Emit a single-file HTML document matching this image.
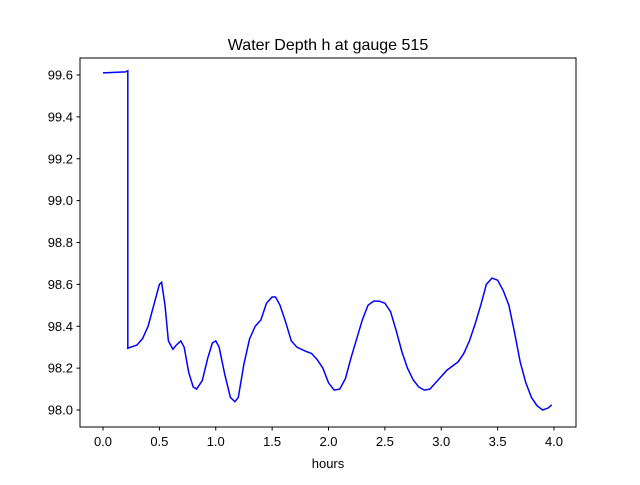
<!DOCTYPE html>
<html><head><meta charset="utf-8"><style>
html,body{margin:0;padding:0;background:#fff;}
svg text{font-family:"Liberation Sans","DejaVu Sans",sans-serif;}
</style></head><body>
<svg id="chart" width="640" height="480" xmlns="http://www.w3.org/2000/svg">
<rect width="640" height="480" fill="#fff"/>
<text x="328" y="50" text-anchor="middle" font-size="16">Water Depth h at gauge 515</text>
<g id="xticks"></g>
<g id="yticks"></g>
<path id="line" fill="none" stroke="#0000ff" stroke-width="1.5"/>
<rect x="80" y="58" width="496" height="369" fill="none" stroke="#000" stroke-width="1"/>
<text x="328" y="468" text-anchor="middle" font-size="13">hours</text>
</svg>
<script>
const hours=[0,0.2,0.22,0.2201,0.3,0.35,0.4,0.45,0.5,0.52,0.55,0.58,0.62,0.65,0.69,0.72,0.76,0.8,0.83,0.88,0.93,0.97,1.0,1.03,1.08,1.13,1.17,1.2,1.25,1.3,1.35,1.4,1.45,1.5,1.53,1.57,1.62,1.67,1.72,1.8,1.85,1.9,1.95,2.0,2.05,2.1,2.15,2.2,2.3,2.35,2.4,2.45,2.5,2.55,2.6,2.65,2.7,2.75,2.8,2.85,2.9,2.95,3.0,3.05,3.1,3.15,3.2,3.25,3.3,3.35,3.4,3.45,3.5,3.55,3.6,3.65,3.7,3.75,3.8,3.85,3.9,3.95,3.98];
const depth=[99.61,99.615,99.62,98.295,98.31,98.34,98.4,98.5,98.6,98.61,98.5,98.33,98.29,98.31,98.33,98.3,98.18,98.11,98.1,98.14,98.25,98.32,98.33,98.3,98.17,98.06,98.04,98.06,98.22,98.34,98.4,98.43,98.51,98.54,98.54,98.5,98.42,98.33,98.3,98.28,98.27,98.24,98.2,98.13,98.095,98.1,98.15,98.25,98.43,98.5,98.52,98.52,98.51,98.47,98.38,98.28,98.2,98.145,98.11,98.095,98.1,98.13,98.16,98.19,98.21,98.23,98.27,98.33,98.41,98.5,98.6,98.63,98.62,98.57,98.5,98.37,98.23,98.13,98.06,98.02,98.0,98.01,98.025];
const xTickLabels=["0.0","0.5","1.0","1.5","2.0","2.5","3.0","3.5","4.0"];
const yTickLabels=["98.0","98.2","98.4","98.6","98.8","99.0","99.2","99.4","99.6"];
const NS="http://www.w3.org/2000/svg";
function xs(v){return 103+(v-0)*(554-103)/4;}
function ys(v){return 410-(v-98.0)*(410-75)/1.6;}
let d="";
for(let i=0;i<hours.length;i++){d+=(i?"L":"M")+xs(hours[i]).toFixed(2)+","+ys(depth[i]).toFixed(2);}
document.getElementById("line").setAttribute("d",d);
const gx=document.getElementById("xticks");
xTickLabels.forEach(l=>{const x=xs(parseFloat(l));
const t=document.createElementNS(NS,"line");


t.setAttribute("x1",x);t.setAttribute("x2",x);t.setAttribute("y1",427);t.setAttribute("y2",430.5);t.setAttribute("stroke","#000");gx.appendChild(t);
const tx=document.createElementNS(NS,"text");


tx.setAttribute("x",x);tx.setAttribute("y",446);tx.setAttribute("text-anchor","middle");tx.setAttribute("font-size","13");tx.textContent=l;gx.appendChild(tx);});
const gy=document.getElementById("yticks");
yTickLabels.forEach(l=>{const y=ys(parseFloat(l));
const t=document.createElementNS(NS,"line");


t.setAttribute("x1",76.5);t.setAttribute("x2",80);t.setAttribute("y1",y);t.setAttribute("y2",y);t.setAttribute("stroke","#000");gy.appendChild(t);
const tx=document.createElementNS(NS,"text");


tx.setAttribute("x",73);tx.setAttribute("y",y+4.5);tx.setAttribute("text-anchor","end");tx.setAttribute("font-size","13");tx.textContent=l;gy.appendChild(tx);});
</script>
</body></html>
